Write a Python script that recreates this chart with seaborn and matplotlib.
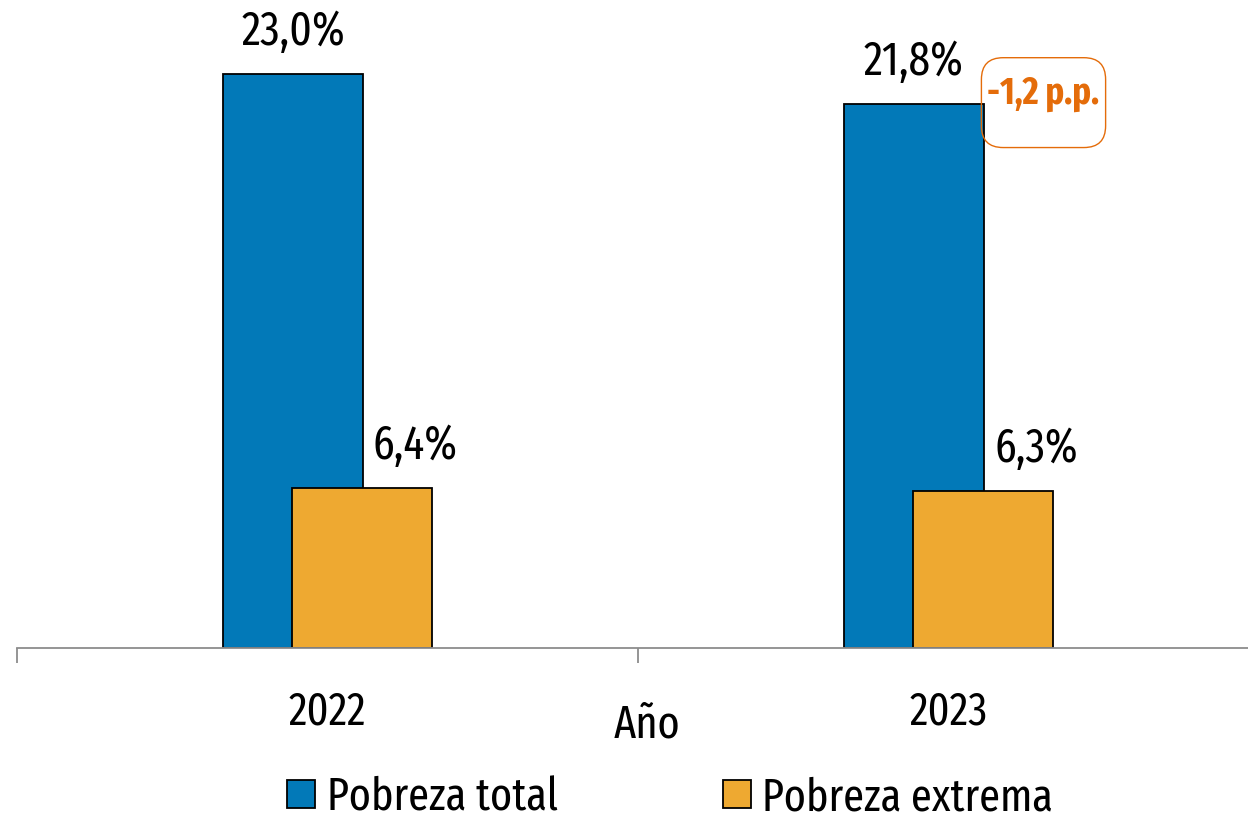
import pandas as pd
import seaborn as sns
import matplotlib.pyplot as plt
from matplotlib.patches import FancyBboxPatch

anios = ['2022', '2023']
series = ['Pobreza total', 'Pobreza extrema']
pobreza_total = [23.0, 21.8]
pobreza_extrema = [6.4, 6.3]
etiquetas_total = ['23,0%', '21,8%']
etiquetas_extrema = ['6,4%', '6,3%']
nota_cambio = '-1,2 p.p.'

colores = ['#0279B8', '#EEA931']
naranja = '#E46C0A'

sns.set_style('white')
plt.rcParams['font.family'] = ['Fira Sans Extra Condensed', 'DejaVu Sans']
plt.rcParams['text.color'] = 'black'
plt.rcParams['xtick.color'] = 'black'
plt.rcParams['axes.labelcolor'] = 'black'

df = pd.DataFrame({
    'Año': anios * 2,
    'serie': [series[0]] * 2 + [series[1]] * 2,
    'valor': pobreza_total + pobreza_extrema,
})

fig = plt.figure(figsize=(12.48, 8.18), dpi=100)
ax = fig.add_axes([17 / 1248, 170 / 818, 1242 / 1248, 624 / 818])

sns.barplot(data=df, x='Año', y='valor', hue='serie', hue_order=series,
            palette=colores, saturation=1, width=0.448, dodge=True, ax=ax,
            edgecolor='black', linewidth=1.3, legend=False, errorbar=None)

# overlap the two bars of each year: move them toward each other
desplaz = 0.112 - 0.0556
for i, p in enumerate(ax.patches):
    if i < 2:
        p.set_x(p.get_x() + desplaz)
    else:
        p.set_x(p.get_x() - desplaz)

ax.set_xlim(-0.5, 1.5)
ax.set_ylim(0, 25)

fs = 33
for i in range(2):
    bt = ax.patches[i]
    ax.text(bt.get_x() + bt.get_width() / 2, pobreza_total[i] + 0.75, etiquetas_total[i],
            ha='center', va='bottom', fontsize=fs + 1)
    bo = ax.patches[i + 2]
    ax.text(bo.get_x() + bo.get_width() / 2 + 0.086, pobreza_extrema[i] + 0.75, etiquetas_extrema[i],
            ha='center', va='bottom', fontsize=fs + 1)

# change note with a rounded box to the right of the 2023 bar
ax.text(1.152, 22.2, nota_cambio, ha='center', va='center', fontsize=27,
        fontweight='bold', color=naranja)
caja = FancyBboxPatch((1.053, 20.05), 0.2, 3.6, boxstyle='round,pad=0,rounding_size=0.035',
                      mutation_aspect=24.9, fc='none', ec=naranja, lw=1.0, clip_on=False)
ax.add_patch(caja)

sns.despine(ax=ax, left=True, top=True, right=True)
ax.spines['bottom'].set_color('#8C8C8C')
ax.spines['bottom'].set_linewidth(1.3)
ax.set_yticks([])
ax.set_ylabel('')
ax.set_xticks([-0.5, 0.5, 1.5], minor=False)
ax.set_xticklabels([])
ax.tick_params(axis='x', which='major', direction='out', length=11, width=1.3,
               color='#8C8C8C', bottom=True)
ax.set_xticks([0, 1], minor=True)
ax.set_xticklabels(anios, minor=True, fontsize=fs)
ax.tick_params(axis='x', which='minor', length=0, pad=30)

ax.set_xlabel('Año', fontsize=fs)
ax.xaxis.set_label_coords(0.507, -0.087)

handles = [plt.Rectangle((0, 0), 1, 1, fc=c, ec='black', lw=1.3) for c in colores]
fig.legend(handles, series, loc='center', bbox_to_anchor=(670 / 1248, 20 / 818),
           ncol=2, frameon=False, fontsize=fs, handlelength=0.61, handleheight=0.55,
           handletextpad=0.26, columnspacing=3.6)

plt.savefig('out.png', dpi=100)
